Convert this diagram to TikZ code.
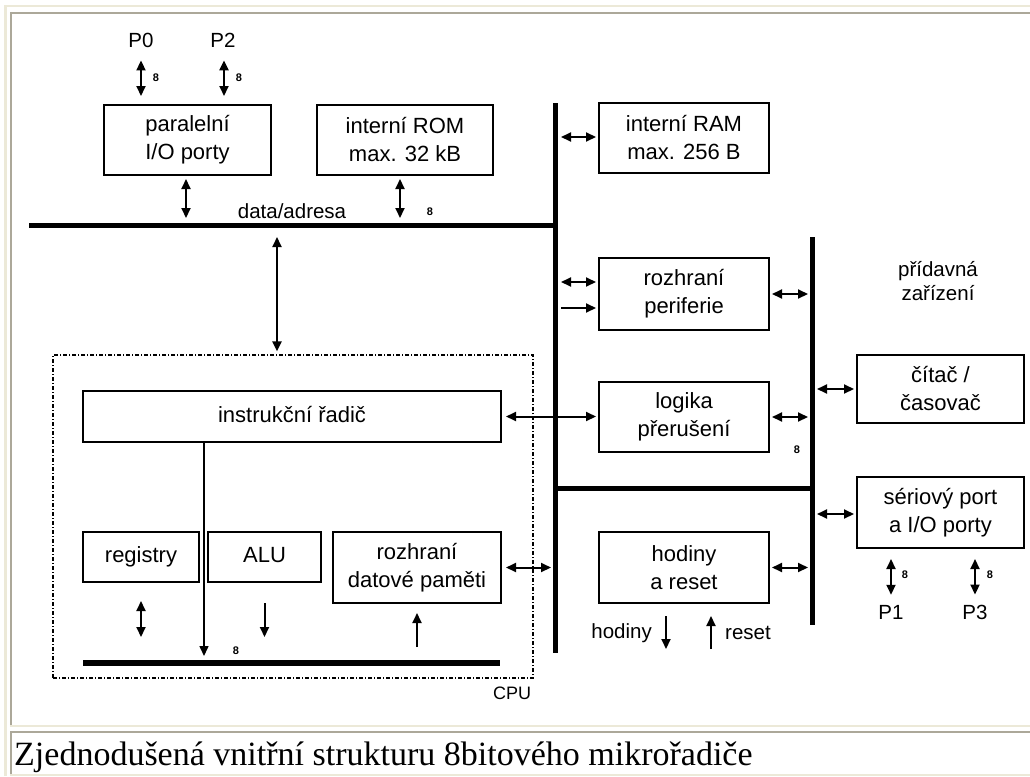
\documentclass[tikz,border=0pt]{standalone}
\usepackage{fontspec}
\setmainfont{Liberation Sans}
\newfontfamily\capfont{Liberation Serif}
\usetikzlibrary{arrows.meta}
\definecolor{framelight}{HTML}{ECE9D8}
\definecolor{framegray}{HTML}{ACA899}

\begin{document}
\begin{tikzpicture}[x=1pt,y=-1pt,
  box/.style={draw, line width=2pt, inner sep=0pt, align=center,
    font=\fontsize{22}{28}\selectfont},
  onerow/.style={text height=16pt, text depth=5pt},
  bus/.style={line width=5pt},
  tip/.tip={Triangle[length=10pt,width=9pt]},
  dbl/.style={line width=2pt, tip-tip},
  one/.style={line width=2pt, -tip},
  lbl/.style={font=\fontsize{20.5}{24}\selectfont, inner sep=0pt, align=center},
  tiny/.style={font=\bfseries\fontsize{11}{12}\selectfont, inner sep=0pt},
  cpubox/.style={draw, line width=1.2pt, dash pattern=on 4pt off 2pt on 1pt off 2pt,
    inner sep=0pt, minimum width=480pt, minimum height=323pt},
]
\useasboundingbox (0,0) rectangle (1030,776);

% table frame around the figure and its caption
\draw[framelight, line width=3pt] (5.5,5) -- (5.5,776);
\draw[framelight, line width=2.5pt] (5,6) -- (1030,6);
\draw[framegray, line width=2.5pt] (11,12) -- (11,725);
\draw[framegray, line width=2.5pt] (10,13) -- (1030,13);
\draw[framelight, line width=2pt] (10,725.5) -- (1030,725.5);
\draw[framegray, line width=2.5pt] (10,732) -- (1030,732);
\draw[framegray, line width=2.5pt] (11,731) -- (11,775);
\draw[framelight, line width=2pt] (10,775) -- (1030,775);

% bus coordinates
\coordinate (hbusL) at (29,225);
\coordinate (lbusT) at (555,103);
\coordinate (lbusB) at (555,653);
\coordinate (rbusT) at (812,237);
\coordinate (rbusB) at (812,625);
\coordinate (mbus) at (555,488);
\coordinate (ibusL) at (83,663);
\coordinate (ibusR) at (500,663);

% buses
\draw[bus] (hbusL) -- (hbusL -| lbusT);
\draw[bus] (lbusT) -- (lbusB);
\draw[bus] (rbusT) -- (rbusB);
\draw[bus] (mbus) -- (mbus -| rbusT);
\draw[line width=6pt] (ibusL) -- (ibusR);

% blocks on the upper bus
\node[box, minimum width=167pt, minimum height=70pt] (par) at (187.5,140) {paralelní\\I/O porty};
\node[box, minimum width=176pt, minimum height=70pt] (rom) at (405,140) {interní ROM\\max. 32 kB};
\node[box, minimum width=170pt, minimum height=70pt] (ram) at (684,138) {interní RAM\\max. 256 B};
\node[box, minimum width=170pt, minimum height=72pt] (rozper) at (684,294) {rozhraní\\periferie};
\node[box, minimum width=170pt, minimum height=70pt] (logika) at (684,417) {logika\\přerušení};
\node[box, minimum width=170pt, minimum height=71pt] (hodiny) at (684,567.5) {hodiny\\a reset};
\node[box, minimum width=167pt, minimum height=68pt] (citac) at (940.5,389) {čítač /\\časovač};
\node[box, minimum width=167pt, minimum height=71pt] (serial) at (940.5,512.5) {sériový port\\a I/O porty};

% CPU
\node[cpubox] (cpu) at (293,516.5) {};
\node[box, onerow, minimum width=418pt, minimum height=51pt] (instr) at (292,416.5) {instrukční řadič};
\node[box, onerow, minimum width=116pt, minimum height=50pt] (reg) at (141,557) {registry};
\node[box, onerow, minimum width=113pt, minimum height=50pt] (alu) at (264.5,557) {ALU};
\node[box, minimum width=168pt, minimum height=71pt] (rdp) at (417,567.5) {rozhraní\\datové paměti};
\node[lbl, font=\fontsize{18}{22}\selectfont] (cpulbl) at (512,693) {CPU};

% labels
\node[lbl] (p0) at (141,40) {P0};
\node[lbl] (p2) at (223,40) {P2};
\node[lbl] (p1) at (891,612) {P1};
\node[lbl] (p3) at (975,612) {P3};
\node[lbl] (da) at (292,211) {data/adresa};
\node[lbl] (pz) at (938,281.5) {přídavná\\zařízení};
\node[lbl, anchor=east] (clk) at (652,633) {hodiny};
\node[lbl, anchor=west] (rst) at (725,633) {reset};

\node[tiny] (w1) at (156,78) {8};
\node[tiny] (w2) at (239,78) {8};
\node[tiny] (w3) at (430,212) {8};
\node[tiny] (w4) at (797,450) {8};
\node[tiny] (w5) at (236,651) {8};
\node[tiny] (w6) at (905,575) {8};
\node[tiny] (w7) at (990,575) {8};

% port connections
\draw[dbl, shorten <=13pt, shorten >=8pt] (p0.south) -- (p0.south |- par.north);
\draw[dbl, shorten <=13pt, shorten >=8pt] ([xshift=1pt]p2.south) -- ([xshift=1pt]p2.south |- par.north);
\draw[dbl, shorten <=10pt, shorten >=10pt] (p1.north) -- (p1.north |- serial.south);
\draw[dbl, shorten <=10pt, shorten >=10pt] (p3.north) -- (p3.north |- serial.south);

% upper bus links
\draw[dbl, shorten <=3pt, shorten >=7pt] ([xshift=-1.5pt]par.south) -- ([xshift=-1.5pt]par.south |- hbusL);
\draw[dbl, shorten <=3pt, shorten >=7pt] ([xshift=-5pt]rom.south) -- ([xshift=-5pt]rom.south |- hbusL);
\coordinate (cpuIn) at (277,225);
\draw[dbl, shorten <=12pt, shorten >=3pt] (cpuIn) -- (cpuIn |- cpu.north);

% left bus links
\draw[dbl, shorten <=6pt, shorten >=2pt] ([yshift=1pt]ram.west -| lbusT) -- ([yshift=1pt]ram.west);
\draw[dbl, shorten <=6pt, shorten >=2pt] ([yshift=12pt]rozper.west -| lbusT) -- ([yshift=12pt]rozper.west);
\draw[one, shorten <=6pt, shorten >=2pt] ([yshift=-14pt]rozper.west -| lbusT) -- ([yshift=-14pt]rozper.west);
\draw[dbl, shorten <=4pt, shorten >=2pt] (instr.east) -- (instr.east -| logika.west);
\draw[dbl, shorten <=4pt, shorten >=4pt] (rdp.east) -- (rdp.east -| lbusT);

% right bus links
\draw[dbl, shorten <=2pt, shorten >=4pt] (rozper.east) -- (rozper.east -| rbusT);
\draw[dbl, shorten <=2pt, shorten >=4pt] (logika.east) -- (logika.east -| rbusT);
\draw[dbl, shorten <=2pt, shorten >=4pt] (hodiny.east) -- (hodiny.east -| rbusT);
\draw[dbl, shorten <=5pt, shorten >=2pt] (citac.west -| rbusT) -- (citac.west);
\draw[dbl, shorten <=5pt, shorten >=2pt] ([yshift=-1.5pt]serial.west -| rbusT) -- ([yshift=-1.5pt]serial.west);

% clock and reset lines
\coordinate (clkout) at (666,649);
\coordinate (rstin) at (711,649);
\draw[one, shorten <=12pt] (clkout |- hodiny.south) -- (clkout);
\draw[one, shorten >=12pt] (rstin) -- (rstin |- hodiny.south);

% CPU internal links
\coordinate (ctl) at (204,663);
\draw[line width=1.5pt, -tip, shorten >=7pt] (ctl |- instr.south) -- (ctl);
\draw[dbl, shorten <=18pt, shorten >=26pt] (reg.south) -- (reg.south |- ibusL);
\draw[one, shorten <=20pt, shorten >=26pt] (alu.south) -- (alu.south |- ibusL);
\draw[one, shorten <=16pt, shorten >=9pt] (rdp.south |- ibusL) -- (rdp.south);

% caption
\node[anchor=base west, inner sep=0pt, font=\capfont\fontsize{34}{38}\selectfont] (cap) at (14,765)
  {Zjednodušená vnitřní strukturu 8bitového mikrořadiče};
\end{tikzpicture}
\end{document}
